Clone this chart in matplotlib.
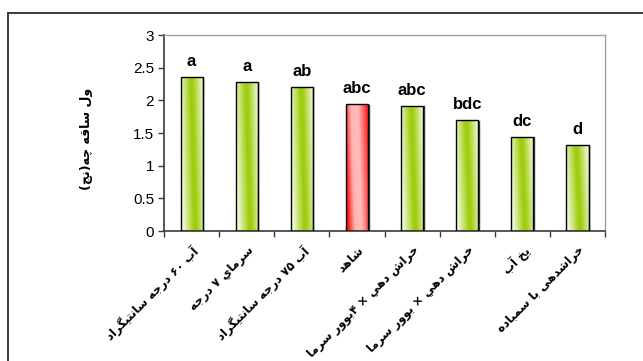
import unicodedata
import numpy as np
import matplotlib
matplotlib.use("Agg")
import matplotlib.pyplot as plt
from matplotlib import font_manager
from matplotlib.ft2font import FT2Font
from matplotlib.colors import LinearSegmentedColormap
from matplotlib.patches import Rectangle
from matplotlib.transforms import ScaledTranslation

# treatments, stem length and significance letters
categories = ["آب ۶۰ درجه سانتیگراد", "سرماي ۷ درجه", "آب ۷۵ درجه سانتیگراد", "شاهد",
              "خراش دهي × ۴بوور سرما", "خراش دهي × بوور سرما", "یخ آب", "خراشدهی با سمباده"]
values = [2.35, 2.28, 2.21, 1.94, 1.92, 1.70, 1.44, 1.31]
letters = ["a", "a", "ab", "abc", "abc", "bdc", "dc", "d"]
control = "شاهد"
y_label = "ول ساقه چه(نج)"
y_ticks = [0, 0.5, 1, 1.5, 2, 2.5, 3]

# --- minimal arabic shaping: presentation forms + right-to-left order ---
fa_font = font_manager.findfont(font_manager.FontProperties(family="DejaVu Sans", weight="bold"))
have = set(FT2Font(fa_font).get_charmap().keys())

FORMS = {}
for cp in range(0xFB50, 0xFEFF):
    d = unicodedata.decomposition(chr(cp))
    if d.startswith("<") and cp in have:
        parts = d.split()
        if len(parts) == 2:
            FORMS.setdefault(chr(int(parts[1], 16)), {})[parts[0][1:-1]] = chr(cp)


def joins_forward(c):
    return c in FORMS and ("initial" in FORMS[c] or "medial" in FORMS[c])


def joins_back(c):
    return c in FORMS and ("final" in FORMS[c] or "medial" in FORMS[c])


def fa(s):
    out = []
    for i, c in enumerate(s):
        if c not in FORMS:
            out.append(c)
            continue
        prev = s[i - 1] if i > 0 else ""
        nxt = s[i + 1] if i < len(s) - 1 else ""
        jp = joins_forward(prev) and joins_back(c)
        jn = joins_forward(c) and joins_back(nxt)
        f = FORMS[c]
        if jp and jn and "medial" in f:
            g = f["medial"]
        elif jp and "final" in f:
            g = f["final"]
        elif jn and "initial" in f:
            g = f["initial"]
        else:
            g = f.get("isolated", c)
        out.append(g)
    # visual order: reverse, keep digit runs left-to-right, mirror brackets
    vis = "".join(out)[::-1]
    vis = vis.translate(str.maketrans("()", ")("))
    res, run = "", ""
    for c in vis:
        if c.isdigit():
            run += c
        else:
            res += run[::-1] + c
            run = ""
    return res + run[::-1]


plt.rcParams["font.family"] = ["Liberation Sans", "DejaVu Sans"]

fig = plt.figure(figsize=(6.43, 3.61), dpi=100)
fig.patches.append(Rectangle((0.0124, -0.05), 1.1, 1.014, transform=fig.transFigure,
                             fill=False, edgecolor="#3a3a3a", linewidth=1.4))
ax = fig.add_axes([0.255, 0.360, 0.686, 0.543])

x = np.arange(len(categories))
bars = ax.bar(x, values, width=0.4, color="none", edgecolor="black", linewidth=1.0, zorder=3)

green = LinearSegmentedColormap.from_list("g", [(0, "#f2f9dc"), (0.5, "#9ccc0a"), (0.62, "#a4d01a"), (1, "#e8f4c4")])
red = LinearSegmentedColormap.from_list("r", [(0, "#ff1010"), (0.3, "#ffb4b4"), (0.6, "#ffbcbc"), (1, "#ff2a2a")])

gx, gy = np.meshgrid(np.linspace(0, 1, 60), np.linspace(0, 1, 200))
grad = np.clip(gx + 0.18 * (gy - 0.5), 0, 1)
for b, cat in zip(bars, categories):
    x0, w, h = b.get_x(), b.get_width(), b.get_height()
    cmap = red if cat == control else green
    im = ax.imshow(grad, cmap=cmap, vmin=0, vmax=1, extent=(x0, x0 + w, 0, h),
                   origin="lower", aspect="auto", zorder=2, interpolation="bilinear")
    im.set_clip_path(b)
    # thin shadow on the right side
    ax.plot([x0 + w * 1.03] * 2, [0, h * 0.995], color="#3a3a3a", lw=1.0, zorder=2.5)

for b, lab in zip(bars, letters):
    ax.annotate(lab, (b.get_x() + b.get_width() / 2, b.get_height()), xytext=(0, 8),
                textcoords="offset pixels", ha="center", va="bottom",
                fontsize=12, fontweight="bold")

ax.set_xlim(-0.5, len(categories) - 0.5)
ax.set_ylim(0, 3)
ax.set_yticks(y_ticks)
ax.set_yticklabels([f"{v:g}" for v in y_ticks])
ax.set_xticks(x)
ax.set_xticklabels([fa(c) for c in categories], rotation=45, ha="right",
                   rotation_mode="anchor", family="DejaVu Sans", fontweight="bold", fontsize=8.5)
shift = ScaledTranslation(-7 / 100, 0, fig.dpi_scale_trans)
for t in ax.get_xticklabels():
    t.set_transform(t.get_transform() + shift)
ax.set_xticks(np.arange(len(categories) + 1) - 0.5, minor=True)
ax.tick_params(axis="x", which="major", length=0, pad=9)
ax.tick_params(axis="x", which="minor", length=4, width=1, color="#3a3a3a")
ax.tick_params(axis="y", length=4, width=1, color="#3a3a3a", labelsize=11, pad=3)

for side in ("left", "bottom"):
    ax.spines[side].set_color("#3a3a3a")
    ax.spines[side].set_linewidth(1.2)
for side in ("top", "right"):
    ax.spines[side].set_color("#a0a0a0")
    ax.spines[side].set_linewidth(1.0)

ax.set_ylabel(fa(y_label), family="DejaVu Sans", fontweight="bold", fontsize=9)
ax.yaxis.set_label_coords(-0.16, 0.47)

fig.savefig("out.png", dpi=100)
